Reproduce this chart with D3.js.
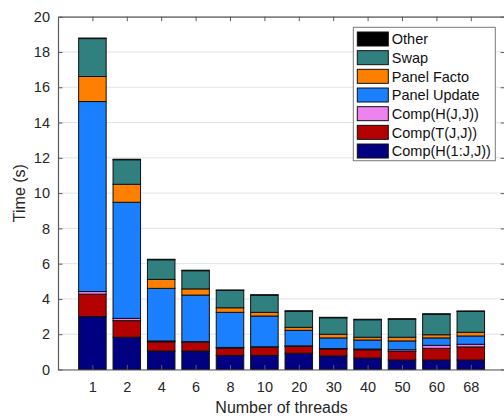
<!DOCTYPE html>
<html>
<head>
<meta charset="utf-8">
<script src="https://cdn.jsdelivr.net/npm/d3@7"></script>
<style>
  html, body { margin: 0; padding: 0; background: #fff; }
  svg { display: block; font-family: "Liberation Sans", Arial, Helvetica, sans-serif; }
</style>
</head>
<body>
<svg id="chart" width="504" height="418"></svg>
<script>
// Thread counts on the x axis
const threads = ["1", "2", "4", "6", "8", "10", "20", "30", "40", "50", "60", "68"];

// Time per phase (seconds), stacked bottom to top
const compH1J  = [3.00, 1.83, 1.05, 1.05, 0.80, 0.80, 0.92, 0.77, 0.65, 0.54, 0.54, 0.54];
const compTJJ  = [1.27, 0.94, 0.52, 0.50, 0.42, 0.46, 0.39, 0.39, 0.47, 0.49, 0.66, 0.74];
const compHJJ  = [0.15, 0.13, 0.05, 0.03, 0.03, 0.03, 0.03, 0.03, 0.04, 0.09, 0.17, 0.15];
const panelUpd = [10.77, 6.58, 2.98, 2.64, 1.99, 1.74, 0.88, 0.60, 0.51, 0.50, 0.42, 0.47];
const panelFac = [1.42, 1.02, 0.51, 0.35, 0.26, 0.21, 0.17, 0.21, 0.16, 0.21, 0.18, 0.21];
const swap     = [2.15, 1.39, 1.11, 1.03, 0.98, 0.97, 0.91, 0.93, 0.99, 1.02, 1.16, 1.18];
const other    = [0.03, 0.03, 0.03, 0.03, 0.03, 0.03, 0.03, 0.03, 0.03, 0.03, 0.03, 0.03];

const yTicks = [0, 2, 4, 6, 8, 10, 12, 14, 16, 18, 20];

// Series in stacking order with their fill colours
const series = [
  { name: "Comp(H(1:J,J))", values: compH1J,  color: "#000080" },
  { name: "Comp(T(J,J))",   values: compTJJ,  color: "#b30000" },
  { name: "Comp(H(J,J))",   values: compHJJ,  color: "#ee82ee" },
  { name: "Panel Update",   values: panelUpd, color: "#1a80ff" },
  { name: "Panel Facto",    values: panelFac, color: "#ff8000" },
  { name: "Swap",           values: swap,     color: "#318080" },
  { name: "Other",          values: other,    color: "#000000" }
];

const svg = d3.select("#chart");
const L = 58, R = 505.2, T = 16.7, B = 369.5;
const axisColor = "#5a5a5a", textColor = "#262626";

const x = d3.scalePoint().domain(threads).range([L, R]).padding(1);
const y = d3.scaleLinear().domain([0, 20]).range([B, T]);
const barW = x.step() * 0.8;

// Horizontal grid
svg.append("g")
  .selectAll("line")
  .data(yTicks)
  .join("line")
  .attr("x1", L).attr("x2", R)
  .attr("y1", d => y(d)).attr("y2", d => y(d))
  .attr("stroke", "#e3e3e3").attr("stroke-width", 1);

// Stacked bars
const rows = threads.map((t, i) => {
  const r = { thread: t };
  series.forEach(s => { r[s.name] = s.values[i]; });
  return r;
});
const stack = d3.stack().keys(series.map(s => s.name));
const layers = stack(rows);

svg.append("g")
  .selectAll("g")
  .data(layers)
  .join("g")
  .attr("fill", (d, i) => series[i].color)
  .selectAll("rect")
  .data(d => d)
  .join("rect")
  .attr("x", d => x(d.data.thread) - barW / 2)
  .attr("y", d => y(d[1]))
  .attr("width", barW)
  .attr("height", d => y(d[0]) - y(d[1]))
  .attr("stroke", "#111")
  .attr("stroke-width", 1);

// Axes (ticks point inward, box on all four sides)
const tickLen = 4.5;
function styleAxis(g) {
  g.select(".domain").attr("stroke", axisColor);
  g.selectAll(".tick line").attr("stroke", axisColor);
  g.selectAll(".tick text").attr("fill", textColor);
}

svg.append("g")
  .attr("transform", `translate(${L},0)`)
  .call(d3.axisLeft(y).tickValues(yTicks).tickSize(-tickLen).tickSizeOuter(0).tickPadding(8))
  .call(styleAxis)
  .call(g => g.selectAll("text").attr("font-size", 14.5));

svg.append("g")
  .attr("transform", `translate(${R},0)`)
  .call(d3.axisRight(y).tickValues(yTicks).tickSize(-tickLen).tickSizeOuter(0).tickFormat(""))
  .call(styleAxis);

svg.append("g")
  .attr("transform", `translate(0,${B})`)
  .call(d3.axisBottom(x).tickSize(-tickLen).tickSizeOuter(0).tickPadding(12))
  .call(styleAxis)
  .call(g => g.selectAll("text").attr("font-size", 14.5));

svg.append("g")
  .attr("transform", `translate(0,${T})`)
  .call(d3.axisTop(x).tickSize(-tickLen).tickSizeOuter(0).tickFormat(""))
  .call(styleAxis);

svg.selectAll(".domain").attr("stroke-width", 1.2);

// Axis titles
svg.append("text")
  .attr("x", (L + R) / 2).attr("y", 412.5)
  .attr("text-anchor", "middle")
  .attr("font-size", 16)
  .attr("fill", textColor)
  .text("Number of threads");

svg.append("text")
  .attr("transform", `translate(25,${(T + B) / 2}) rotate(-90)`)
  .attr("text-anchor", "middle")
  .attr("font-size", 16)
  .attr("fill", textColor)
  .text("Time (s)");

// Legend, top entry is the last stacked series
const lg = svg.append("g").attr("transform", "translate(353.3,27.3)");
lg.append("rect")
  .attr("width", 142).attr("height", 133.4)
  .attr("fill", "#fff").attr("stroke", "#7a7a7a").attr("stroke-width", 1);
const legendItems = series.slice().reverse();
const item = lg.selectAll("g.item")
  .data(legendItems)
  .join("g")
  .attr("class", "item")
  .attr("transform", (d, i) => `translate(0,${11.7 + i * 18.67})`);
item.append("rect")
  .attr("x", 4).attr("y", -7)
  .attr("width", 31).attr("height", 14)
  .attr("fill", d => d.color)
  .attr("stroke", "#111").attr("stroke-width", 1);
item.append("text")
  .attr("x", 38.5).attr("y", 5.2)
  .attr("font-size", 14.5)
  .attr("fill", "#111")
  .text(d => d.name);
</script>
</body>
</html>
